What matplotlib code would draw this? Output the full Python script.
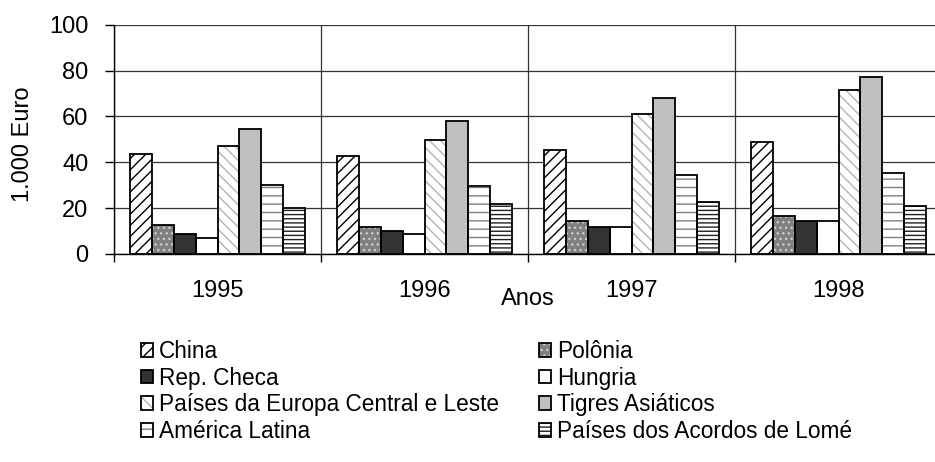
import matplotlib
matplotlib.use('Agg')
import matplotlib.pyplot as plt
import numpy as np

plt.rcParams['font.family'] = ['Liberation Sans', 'DejaVu Sans']
plt.rcParams['hatch.linewidth'] = 1.0

years = ['1995', '1996', '1997', '1998']
series = ['China', 'Polônia', 'Rep. Checa', 'Hungria',
          'Países da Europa Central e Leste', 'Tigres Asiáticos',
          'América Latina', 'Países dos Acordos de Lomé']
china = [43.6, 42.6, 45.3, 48.9]
polonia = [12.6, 11.9, 14.5, 16.4]
rep_checa = [8.7, 9.9, 11.6, 14.2]
hungria = [7.1, 8.9, 11.9, 14.5]
peco = [47.2, 49.8, 60.9, 71.6]
tigres = [54.3, 58.0, 68.1, 77.1]
america_latina = [30.1, 29.8, 34.4, 35.2]
lome = [19.9, 21.8, 22.7, 20.8]
values = [china, polonia, rep_checa, hungria, peco, tigres, america_latina, lome]

styles = [
    ('white', '///', 'black'),
    ('#808080', '...', '#cccccc'),
    ('#333333', None, '#333333'),
    ('white', None, 'white'),
    ('white', '\\\\\\', '#b4b4b4'),
    ('#c0c0c0', None, '#c0c0c0'),
    ('white', '--', '#808080'),
    ('white', '----', '#202020'),
]

FS = 17
fig = plt.figure(figsize=(9.35, 4.62), dpi=100)
ax = fig.add_axes([114 / 935, 208 / 462, 828 / 935, 229.3 / 462])

idx = np.arange(len(years))
w = 1 / 9.5
handles = []
for j, (vals, (fc, hatch, hc)) in enumerate(zip(values, styles)):
    x = idx + (j - 3.5) * w
    b1 = ax.bar(x, vals, w, color=fc, hatch=hatch, edgecolor=hc, linewidth=0, zorder=2)
    b2 = ax.bar(x, vals, w, fill=False, edgecolor='black', linewidth=1.3, zorder=3)
    handles.append((b1[0], b2[0]))

ax.set_xlim(-0.5, 3.5)
ax.set_ylim(0, 100)
ax.set_yticks(range(0, 101, 20))
ax.set_xticks(idx)
ax.set_xticklabels(years)
ax.set_xticks([-0.5, 0.5, 1.5, 2.5, 3.5], minor=True)
ax.tick_params(axis='x', which='major', length=0, pad=19, labelsize=FS)
ax.tick_params(axis='x', which='minor', length=6, width=1, direction='out')
ax.tick_params(axis='y', which='major', length=6.3, width=1, direction='out', pad=12, labelsize=FS)
ax.set_axisbelow(True)
ax.grid(which='major', axis='y', color='#333333', linewidth=0.9)
ax.grid(which='minor', axis='x', color='#333333', linewidth=0.9)
ax.grid(which='major', axis='x', visible=False)
for s in ['top', 'right']:
    ax.spines[s].set_visible(False)
for s in ['left', 'bottom']:
    ax.spines[s].set_linewidth(1.0)

ax.set_xlabel('Anos', fontsize=FS, va='top')
ax.xaxis.set_label_coords(0.5, -0.147)
ax.set_ylabel('1.000 Euro', fontsize=FS, va='center')
ax.yaxis.set_label_coords(-0.110, 0.48)

order = [0, 2, 4, 6, 1, 3, 5, 7]
fig.legend([handles[i] for i in order], [series[i] for i in order],
           loc='upper left', bbox_to_anchor=(141 / 935, 1 - 340 / 462),
           ncol=2, frameon=False, borderpad=0, borderaxespad=0,
           handlelength=0.55, handleheight=0.55, handletextpad=0.25,
           labelspacing=0.16, columnspacing=1.75, fontsize=16.3)

fig.savefig('out.png', dpi=100)
